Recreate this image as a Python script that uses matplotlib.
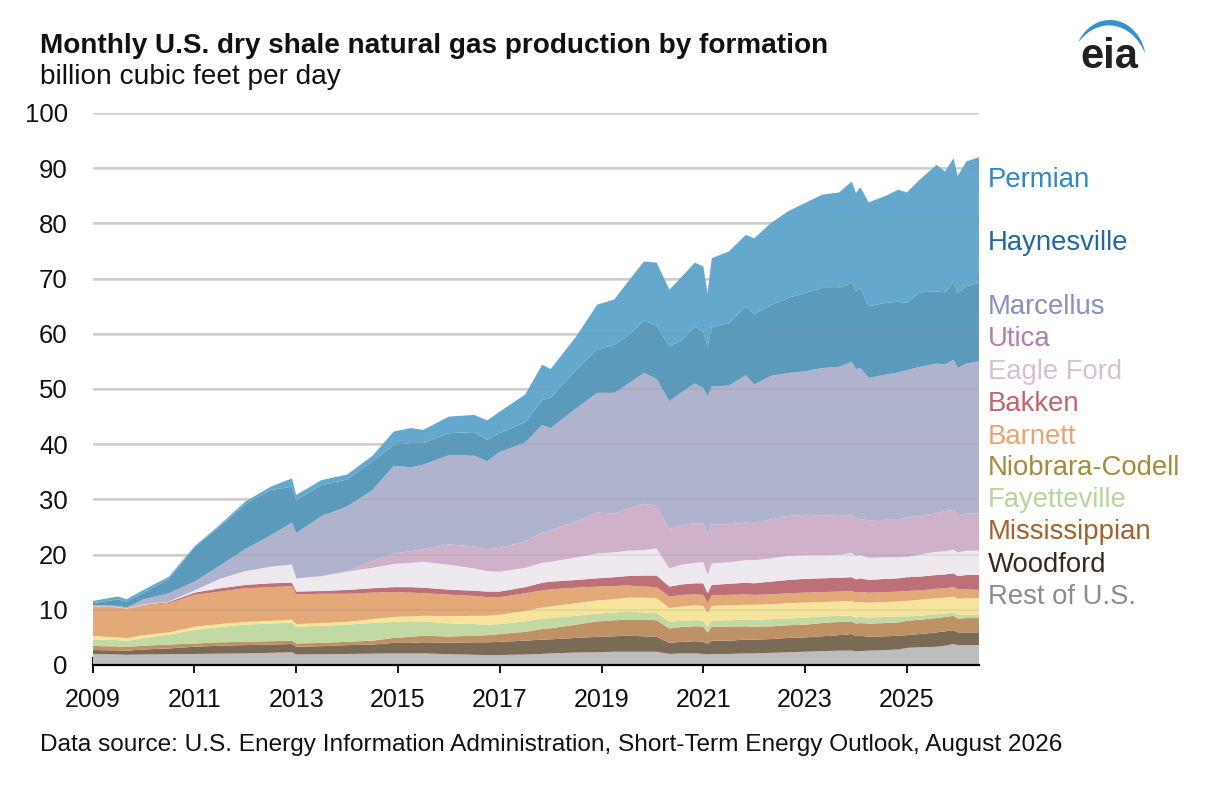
import numpy as np
import matplotlib
matplotlib.use('Agg')
import matplotlib.pyplot as plt
from matplotlib.patches import Polygon

plt.rcParams['font.family'] = ['Liberation Sans', 'DejaVu Sans']

# meses (pontos escolhidos nas mudancas de forma)
months = ['2009-01', '2009-07', '2009-09', '2010-01', '2010-07', '2011-01', '2011-07',
          '2012-01', '2012-07', '2012-12', '2013-01', '2013-07', '2014-01', '2014-07',
          '2014-12', '2015-04', '2015-07', '2016-01', '2016-07', '2016-10', '2017-01',
          '2017-07', '2017-11', '2018-01', '2018-07', '2018-12', '2019-04', '2019-07',
          '2019-11', '2020-02', '2020-05', '2020-08', '2020-11', '2021-01', '2021-02',
          '2021-03', '2021-07', '2021-11', '2022-01', '2022-05', '2022-09', '2023-01',
          '2023-05', '2023-09', '2023-12', '2024-01', '2024-02', '2024-04', '2024-08',
          '2024-11', '2025-01', '2025-04', '2025-08', '2025-10', '2025-12', '2026-01',
          '2026-03', '2026-06']

# bilhoes de pes cubicos por dia, de baixo para cima
rest_us = [2.0, 1.9, 1.85, 1.9, 1.95, 2.0, 2.05, 2.1, 2.2, 2.3, 1.9, 1.95, 2.0, 2.05, 2.1,
           2.1, 2.1, 1.95, 1.85, 1.8, 1.8, 1.9, 2.0, 2.1, 2.25, 2.3, 2.4, 2.4, 2.4, 2.4,
           2.0, 2.1, 2.1, 2.0, 1.9, 2.0, 2.0, 2.1, 2.1, 2.2, 2.3, 2.4, 2.5, 2.6, 2.6, 2.5,
           2.5, 2.6, 2.7, 2.8, 3.1, 3.2, 3.3, 3.5, 3.8, 3.6, 3.6, 3.6]
woodford = [0.7, 0.75, 0.75, 0.9, 1.05, 1.3, 1.45, 1.5, 1.5, 1.5, 1.4, 1.45, 1.6, 1.65, 1.9,
            1.9, 2.0, 2.1, 2.25, 2.3, 2.4, 2.5, 2.6, 2.55, 2.65, 2.8, 2.8, 2.9, 2.8, 2.7,
            2.0, 2.1, 2.2, 2.2, 1.9, 2.4, 2.4, 2.5, 2.5, 2.5, 2.6, 2.6, 2.7, 2.8, 3.0, 2.7,
            2.8, 2.5, 2.5, 2.5, 2.3, 2.4, 2.6, 2.6, 2.5, 2.3, 2.3, 2.3]
mississippian = [0.75, 0.7, 0.65, 0.7, 0.7, 0.6, 0.6, 0.6, 0.6, 0.6, 0.6, 0.6, 0.6, 0.7, 0.9,
                 1.1, 1.2, 1.1, 1.2, 1.3, 1.4, 1.6, 1.9, 2.0, 2.4, 2.8, 2.9, 2.9, 3.0, 3.0,
                 2.6, 2.7, 2.7, 2.75, 2.1, 2.55, 2.55, 2.4, 2.35, 2.3, 2.3, 2.3, 2.4, 2.4,
                 2.3, 2.3, 2.3, 2.4, 2.4, 2.4, 2.6, 2.6, 2.6, 2.6, 2.6, 2.5, 2.6, 2.6]
fayetteville = [1.2, 1.15, 1.1, 1.4, 1.8, 2.45, 2.8, 3.1, 3.2, 3.3, 3.05, 3.1, 3.1, 3.2, 2.9,
                2.8, 2.6, 2.4, 2.1, 1.9, 1.8, 1.9, 1.9, 1.85, 1.6, 1.4, 1.4, 1.5, 1.3, 1.3,
                1.25, 1.1, 1.1, 1.05, 1.05, 1.05, 1.15, 1.2, 1.25, 1.3, 1.2, 1.3, 1.2, 1.1,
                1.0, 1.1, 1.1, 1.1, 1.1, 1.1, 0.8, 0.7, 0.7, 0.6, 0.6, 0.7, 0.6, 0.6]
niobrara = [0.6, 0.5, 0.5, 0.5, 0.4, 0.55, 0.5, 0.5, 0.5, 0.5, 0.45, 0.5, 0.5, 0.7, 0.9,
            0.9, 1.0, 1.3, 1.5, 1.6, 1.7, 1.9, 2.0, 2.1, 2.3, 2.4, 2.4, 2.5, 2.7, 2.7,
            2.45, 2.6, 2.7, 2.7, 2.45, 2.7, 2.7, 2.7, 2.7, 2.7, 2.8, 2.7, 2.6, 2.6, 2.7,
            2.7, 2.7, 2.7, 2.7, 2.7, 2.8, 2.9, 2.9, 2.9, 2.9, 2.9, 3.0, 3.0]
barnett = [5.35, 5.4, 5.3, 5.4, 5.3, 5.8, 5.9, 6.1, 6.1, 6.1, 5.4, 5.3, 5.1, 4.8, 4.5, 4.3,
           4.1, 3.9, 3.6, 3.4, 3.2, 3.2, 3.1, 3.1, 2.8, 2.5, 2.4, 2.2, 2.0, 2.0, 2.1, 2.1,
           2.0, 2.0, 1.8, 1.9, 1.9, 1.9, 1.8, 1.8, 1.8, 1.8, 1.8, 1.8, 1.8, 1.8, 1.8, 1.8,
           1.8, 1.8, 1.8, 1.7, 1.7, 1.7, 1.7, 1.7, 1.6, 1.5]
bakken = [0.05, 0.05, 0.05, 0.1, 0.2, 0.4, 0.6, 0.6, 0.7, 0.6, 0.5, 0.5, 0.7, 0.8, 0.9, 1.0,
          1.0, 0.9, 0.95, 1.0, 1.0, 1.1, 1.4, 1.4, 1.4, 1.5, 1.6, 1.7, 2.0, 2.1, 1.8, 1.9,
          2.0, 2.1, 1.8, 1.9, 2.0, 2.1, 2.1, 2.3, 2.4, 2.5, 2.5, 2.5, 2.5, 2.4, 2.5, 2.3,
          2.4, 2.4, 2.5, 2.5, 2.5, 2.5, 2.5, 2.4, 2.6, 2.7]
eagle_ford = [0.05, 0.05, 0.05, 0.1, 0.1, 0.4, 1.7, 2.5, 3.0, 3.3, 2.4, 2.7, 3.3, 3.7, 4.2,
              4.4, 4.7, 4.5, 4.05, 3.7, 3.6, 3.5, 3.6, 3.6, 4.1, 4.5, 4.5, 4.6, 4.6, 4.9,
              3.3, 3.6, 3.7, 3.8, 3.3, 3.9, 3.9, 4.1, 4.2, 4.2, 4.4, 4.3, 4.2, 4.2, 4.4,
              4.3, 4.3, 4.0, 3.9, 3.8, 3.7, 4.0, 4.2, 4.2, 4.3, 4.3, 4.4, 4.4]
utica = [0.0, 0.0, 0.0, 0.0, 0.0, 0.0, 0.0, 0.0, 0.0, 0.0, 0.0, 0.0, 0.1, 1.2, 1.9, 2.1,
         2.3, 3.7, 4.0, 4.0, 4.3, 4.8, 5.5, 5.7, 6.5, 7.4, 7.0, 7.6, 8.4, 7.7, 7.1, 7.2,
         7.2, 7.0, 7.3, 7.1, 6.9, 6.8, 6.6, 7.1, 7.2, 7.3, 7.2, 7.0, 6.9, 6.7, 6.4, 6.8,
         6.8, 6.8, 7.1, 7.0, 7.0, 7.3, 7.2, 6.9, 6.7, 6.8]
marcellus = [0.15, 0.2, 0.15, 0.9, 1.5, 1.6, 2.4, 4.0, 5.7, 7.6, 8.2, 10.9, 11.7, 12.9, 15.9,
             15.2, 15.3, 16.15, 16.4, 15.9, 17.4, 17.9, 19.5, 18.5, 20.5, 21.7, 21.9, 22.5,
             23.7, 23.0, 23.2, 24.1, 25.3, 24.6, 25.1, 25.0, 25.1, 26.7, 25.2, 26.0, 25.9,
             26.0, 26.7, 27.0, 27.7, 27.1, 27.4, 25.8, 26.3, 26.7, 26.7, 27.0, 27.1, 26.6,
             27.2, 26.5, 27.2, 27.5]
haynesville = [0.35, 1.2, 1.1, 1.2, 2.6, 6.2, 7.1, 8.1, 8.2, 6.5, 6.0, 5.6, 4.9, 5.2, 3.8,
               4.4, 3.9, 4.0, 4.3, 3.9, 3.4, 3.7, 4.5, 5.5, 7.0, 7.9, 8.7, 8.7, 9.5, 9.7,
               9.9, 9.4, 10.3, 10.2, 8.9, 10.7, 11.3, 12.5, 12.7, 12.8, 13.6, 14.2, 14.5,
               14.3, 14.4, 14.1, 14.5, 13.0, 13.0, 12.8, 12.2, 13.5, 13.1, 13.0, 14.0,
               13.6, 14.0, 14.2]
permian = [0.4, 0.5, 0.4, 0.5, 0.4, 0.2, 0.3, 0.5, 0.6, 1.5, 0.9, 0.9, 0.9, 1.0, 2.4, 2.7,
           2.4, 3.0, 3.1, 3.5, 3.9, 5.0, 6.4, 5.2, 6.0, 8.1, 8.2, 9.7, 10.7, 11.4, 10.3,
           11.5, 11.6, 11.8, 9.8, 12.5, 13.0, 12.9, 13.8, 14.9, 15.7, 16.3, 16.9, 17.3,
           18.3, 17.8, 18.3, 18.8, 19.4, 20.3, 20.0, 20.4, 22.9, 21.9, 22.5, 21.2, 22.6,
           22.8]

series = [rest_us, woodford, mississippian, fayetteville, niobrara, barnett, bakken,
          eagle_ford, utica, marcellus, haynesville, permian]
names = ['Rest of U.S.', 'Woodford', 'Mississippian', 'Fayetteville', 'Niobrara-Codell',
         'Barnett', 'Bakken', 'Eagle Ford', 'Utica', 'Marcellus', 'Haynesville', 'Permian']

fill_colors = ['#bdbdbd', '#7b6a55', '#bf9266', '#c2d9a3', '#f6e49c', '#e4a978', '#bd7077',
               '#eee8ef', '#cfb1c9', '#afb3ce', '#5b9aba', '#64a9cd']
label_colors = ['#8c8c8c', '#3b2a1a', '#a2622f', '#b5d69a', '#a68a3c', '#e9a56f', '#c0656d',
                '#d8bdd4', '#b17fae', '#8790bf', '#2467a0', '#2f87c3']
label_y = [12.3, 18.1, 24.1, 29.9, 35.7, 41.3, 47.3, 53.1, 59.1, 64.9, 76.5, 87.9]

# ano decimal a partir de 'AAAA-MM'
x = np.array([int(m[:4]) + (int(m[5:]) - 1) / 12 for m in months])

fig = plt.figure(figsize=(12.08, 7.94), dpi=100)
ax = fig.add_axes([0.0767, 0.1625, 0.7337, 0.6952])

ax.stackplot(x, *series, colors=fill_colors, linewidth=0, zorder=2)

ax.set_xlim(2009, x[-1])
ax.set_ylim(0, 100)
ax.set_yticks(range(0, 101, 10))
ax.set_xticks(range(2009, 2026, 2))
ax.grid(axis='y', color='#d9d9d9', linewidth=2.0)
ax.set_axisbelow(True)
ax.hlines(range(10, 101, 10), 2009, x[-1], colors='#8a8a8a', linewidth=1.2, alpha=0.18, zorder=3)

for s in ['top', 'right', 'left']:
    ax.spines[s].set_visible(False)
ax.spines['bottom'].set_linewidth(1.6)
ax.spines['bottom'].set_zorder(4)
ax.tick_params(axis='y', length=0, pad=18, labelsize=18.5, labelcolor='#111111')
ax.tick_params(axis='x', direction='inout', length=11, width=1.3, pad=11, labelsize=18,
               labelcolor='#111111')

tr = ax.get_yaxis_transform()
for name, yy, c in zip(names, label_y, label_colors):
    ax.text(1.0102, yy, name, transform=tr, color=c, fontsize=19.8, va='center', ha='left',
            clip_on=False)

fig.text(0.0331, 0.9420, 'Monthly U.S. dry shale natural gas production by formation',
         fontsize=20.1, fontweight='bold', va='center', ha='left', color='#111111')
fig.text(0.0331, 0.9035, 'billion cubic feet per day', fontsize=20.2, va='center',
         ha='left', color='#111111')
fig.text(0.0331, 0.0617, 'Data source: U.S. Energy Information Administration, '
         'Short-Term Energy Outlook, August 2026', fontsize=17.6, va='center', ha='left',
         color='#111111')

# logo eia
fig.text(1109 / 1208, 1 - 68 / 794, 'eia', fontsize=30, fontweight='bold', color='#231f20',
         ha='center', va='baseline')
th = np.linspace(np.radians(152), np.radians(12), 60)
thick = 5.5 * np.sin(np.pi * np.linspace(0, 1, 60)) ** 0.8
cx, cy, rx, ry = 1110, 62, 36, 42
outer = [(cx + rx * np.cos(t), cy - ry * np.sin(t)) for t in th]
inner = [(cx + (rx - d) * np.cos(t), cy - (ry - d) * np.sin(t)) for t, d in zip(th, thick)]
pts = [(px / 1208, 1 - py / 794) for px, py in outer + inner[::-1]]
fig.patches.append(Polygon(pts, closed=True, transform=fig.transFigure,
                           facecolor='#3592d0', edgecolor='none'))

fig.savefig('out.png', dpi=100)
